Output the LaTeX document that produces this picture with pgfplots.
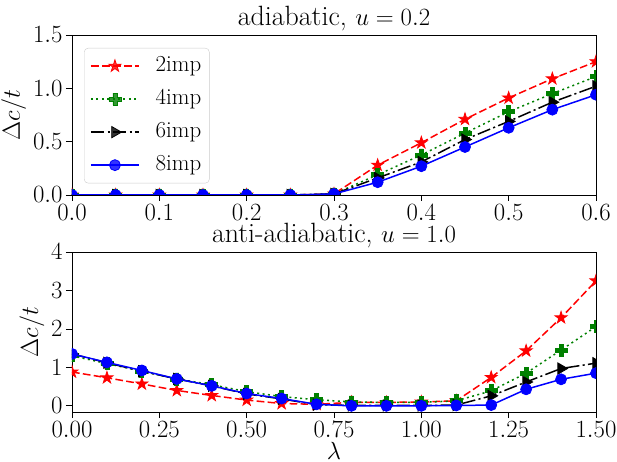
\documentclass[border=0pt]{standalone}
\usepackage{pgfplots}
\usepackage{pgfplotstable}
\pgfplotsset{compat=1.18}
\usetikzlibrary{plotmarks}

\definecolor{mgreen}{HTML}{008000}

% filled five-pointed star, like matplotlib's '*'
\pgfdeclareplotmark{fstar}{%
  \pgfpathmoveto{\pgfpointpolar{90}{\pgfplotmarksize}}%
  \pgfpathlineto{\pgfpointpolar{126}{0.382\pgfplotmarksize}}%
  \pgfpathlineto{\pgfpointpolar{162}{\pgfplotmarksize}}%
  \pgfpathlineto{\pgfpointpolar{198}{0.382\pgfplotmarksize}}%
  \pgfpathlineto{\pgfpointpolar{234}{\pgfplotmarksize}}%
  \pgfpathlineto{\pgfpointpolar{270}{0.382\pgfplotmarksize}}%
  \pgfpathlineto{\pgfpointpolar{306}{\pgfplotmarksize}}%
  \pgfpathlineto{\pgfpointpolar{342}{0.382\pgfplotmarksize}}%
  \pgfpathlineto{\pgfpointpolar{18}{\pgfplotmarksize}}%
  \pgfpathlineto{\pgfpointpolar{54}{0.382\pgfplotmarksize}}%
  \pgfpathclose
  \pgfusepathqfillstroke
}
% filled plus, like matplotlib's 'P'
\pgfdeclareplotmark{fplus}{%
  \pgfpathmoveto{\pgfpoint{-0.33\pgfplotmarksize}{\pgfplotmarksize}}%
  \pgfpathlineto{\pgfpoint{0.33\pgfplotmarksize}{\pgfplotmarksize}}%
  \pgfpathlineto{\pgfpoint{0.33\pgfplotmarksize}{0.33\pgfplotmarksize}}%
  \pgfpathlineto{\pgfpoint{\pgfplotmarksize}{0.33\pgfplotmarksize}}%
  \pgfpathlineto{\pgfpoint{\pgfplotmarksize}{-0.33\pgfplotmarksize}}%
  \pgfpathlineto{\pgfpoint{0.33\pgfplotmarksize}{-0.33\pgfplotmarksize}}%
  \pgfpathlineto{\pgfpoint{0.33\pgfplotmarksize}{-\pgfplotmarksize}}%
  \pgfpathlineto{\pgfpoint{-0.33\pgfplotmarksize}{-\pgfplotmarksize}}%
  \pgfpathlineto{\pgfpoint{-0.33\pgfplotmarksize}{-0.33\pgfplotmarksize}}%
  \pgfpathlineto{\pgfpoint{-\pgfplotmarksize}{-0.33\pgfplotmarksize}}%
  \pgfpathlineto{\pgfpoint{-\pgfplotmarksize}{0.33\pgfplotmarksize}}%
  \pgfpathlineto{\pgfpoint{-0.33\pgfplotmarksize}{0.33\pgfplotmarksize}}%
  \pgfpathclose
  \pgfusepathqfillstroke
}

\pgfplotstableread{
lam   imp2  imp4   imp6  imp8
0.00  0.00  0.00   0.00  0.00
0.05  0.00  0.00   0.00  0.00
0.10  0.00  0.00   0.00  0.00
0.15  0.00  0.00   0.00  0.00
0.20  0.00  0.00   0.00  0.00
0.25  0.00  0.00   0.00  0.00
0.30  0.01  0.01   0.01  0.01
0.35  0.28  0.19   0.16  0.12
0.40  0.49  0.375  0.31  0.27
0.45  0.71  0.58   0.52  0.45
0.50  0.91  0.78   0.69  0.63
0.55  1.09  0.95   0.87  0.80
0.60  1.25  1.11   1.02  0.94
}\adiab

\pgfplotstableread{
lam   imp2  imp4  imp6  imp8
0.0   0.88  1.30  1.35  1.35
0.1   0.73  1.10  1.12  1.13
0.2   0.57  0.90  0.90  0.92
0.3   0.40  0.70  0.70  0.70
0.4   0.27  0.55  0.52  0.52
0.5   0.15  0.37  0.31  0.32
0.6   0.06  0.24  0.18  0.19
0.7   0.04  0.16  0.03  0.04
0.8   0.09  0.10  0.01  0.00
0.9   0.09  0.09  0.01  0.00
1.0   0.10  0.09  0.01  0.00
1.1   0.13  0.13  0.02  0.01
1.2   0.74  0.39  0.26  0.02
1.3   1.43  0.85  0.62  0.43
1.4   2.29  1.45  0.97  0.69
1.5   3.25  2.06  1.11  0.85
}\antiadiab

\pgfplotsset{
  panel/.style={
    width=524bp, height=160bp, scale only axis,
    axis line style={black, line width=0.8bp},
    tick align=outside, major tick length=6bp,
    tick style={black, line width=0.8bp},
    xtick pos=bottom, ytick pos=left,
    tick label style={font=\fontsize{23.5}{27}\selectfont},
    label style={font=\fontsize{23}{27}\selectfont},
    xlabel style={yshift=2bp},
    title style={font=\fontsize{28}{32}\selectfont, at={(0.5,1)}, anchor=base,
      inner sep=0.5bp, yshift=3.5bp},
    clip marker paths=true,
  },
  s2/.style={red, line width=1.5bp, dash pattern=on 7.7bp off 3.3bp,
    mark=fstar, mark size=6.3bp, mark options={solid, line width=0.8bp}},
  s4/.style={mgreen, line width=1.5bp, dash pattern=on 2bp off 3.4bp,
    mark=fplus, mark size=6bp, mark options={solid, line width=0.8bp}},
  s6/.style={black, line width=1.5bp, dash pattern=on 13.3bp off 3.3bp on 2.1bp off 3.3bp,
    mark=triangle*, mark size=6.5bp, mark options={solid, rotate=-90, line width=0.8bp}},
  s8/.style={blue, line width=1.5bp, solid,
    mark=*, mark size=5.5bp, mark options={solid, line width=0.8bp}},
}

\begin{document}
\begin{tikzpicture}
\useasboundingbox (-72bp,-50bp) rectangle (545bp,412bp);

\begin{axis}[panel, at={(0bp,217bp)}, anchor=south west,
  xmin=0, xmax=0.6, ymin=0, ymax=1.5,
  xtick={0,0.1,0.2,0.3,0.4,0.5,0.6},
  ytick={0,0.5,1,1.5},
  xticklabel style={/pgf/number format/.cd, fixed, fixed zerofill, precision=1},
  yticklabel style={/pgf/number format/.cd, fixed, fixed zerofill, precision=1},
  ylabel={$\Delta c/t$},
  title={adiabatic, $u=0.2$},
  legend style={at={(0.0229,0.919)}, anchor=north west,
    draw=black!20, rounded corners=4bp, fill=white, fill opacity=0.8, text opacity=1,
    inner sep=6bp, row sep=9bp,
    font=\fontsize{23}{27}\selectfont,
    nodes={inner sep=2bp, text height=15bp, text depth=5bp},
    /tikz/every odd column/.append style={column sep=14bp}},
  legend cell align=left,
  legend image code/.code={
    \draw[mark repeat=2, mark phase=2, #1] plot coordinates {(0bp,0bp) (24bp,0bp) (48bp,0bp)};
  },
]
  \addplot[s2] table[x=lam, y=imp2] {\adiab};
  \addlegendentry{2imp}
  \addplot[s4] table[x=lam, y=imp4] {\adiab};
  \addlegendentry{4imp}
  \addplot[s6] table[x=lam, y=imp6] {\adiab};
  \addlegendentry{6imp}
  \addplot[s8] table[x=lam, y=imp8] {\adiab};
  \addlegendentry{8imp}
\end{axis}

\begin{axis}[panel, at={(0bp,0bp)}, anchor=south west,
  xmin=0, xmax=1.5, ymin=-0.16, ymax=4,
  xtick={0,0.25,0.5,0.75,1,1.25,1.5},
  ytick={0,1,2,3,4},
  xticklabel style={/pgf/number format/.cd, fixed, fixed zerofill, precision=2},
  xlabel={$\lambda$},
  ylabel={$\Delta c/t$},
  title={anti-adiabatic, $u=1.0$},
]
  \addplot[s2] table[x=lam, y=imp2] {\antiadiab};
  \addplot[s4] table[x=lam, y=imp4] {\antiadiab};
  \addplot[s6] table[x=lam, y=imp6] {\antiadiab};
  \addplot[s8] table[x=lam, y=imp8] {\antiadiab};
\end{axis}
\end{tikzpicture}
\end{document}
